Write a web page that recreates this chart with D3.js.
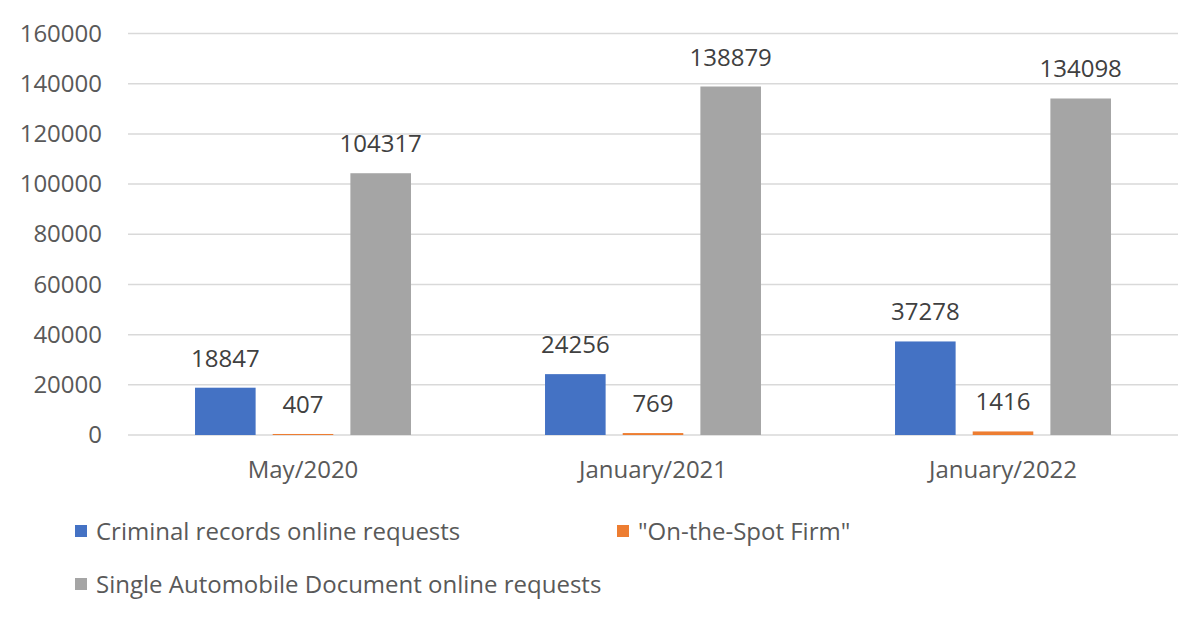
<!DOCTYPE html>
<html>
<head>
<meta charset="utf-8">
<script src="https://cdn.jsdelivr.net/npm/d3@7"></script>
<style>
  body { margin: 0; background: #fff; }
  svg { display: block; font-family: "Open Sans", Lato, sans-serif; }
</style>
</head>
<body>
<div id="chart-area"></div>
<script>
// chart data
const categories = ['May/2020', 'January/2021', 'January/2022'];
const seriesNames = ['Criminal records online requests', '"On-the-Spot Firm"', 'Single Automobile Document online requests'];
const criminalRecords = [18847, 24256, 37278];
const onTheSpot = [407, 769, 1416];
const singleAutomobile = [104317, 138879, 134098];
const yTicks = [0, 20000, 40000, 60000, 80000, 100000, 120000, 140000, 160000];
const seriesColors = ['#4472c4', '#ed7d31', '#a5a5a5'];

const width = 1200, height = 618;
const margin = { top: 33.5, right: 22, bottom: 183, left: 128 };
const innerWidth = width - margin.left - margin.right;
const innerHeight = height - margin.top - margin.bottom;
const fontFamily = '"Open Sans", Lato, sans-serif';
const fontSize = '24px';

const svg = d3.select('#chart-area')
    .append('svg')
    .attr('width', width)
    .attr('height', height);

const g = svg.append('g')
    .attr('transform', `translate(${margin.left},${margin.top})`);

// scales
const x0 = d3.scaleBand()
    .domain(categories)
    .range([0, innerWidth])
    .paddingInner(0.383)
    .paddingOuter(0.383 / 2);

const x1 = d3.scaleBand()
    .domain(d3.range(seriesNames.length))
    .range([0, x0.bandwidth()])
    .paddingInner(0.22)
    .paddingOuter(0);

const y = d3.scaleLinear()
    .domain([0, 160000])
    .range([innerHeight, 0]);

// gridlines
g.append('g')
    .selectAll('line')
    .data(yTicks)
    .join('line')
    .attr('x1', 0)
    .attr('x2', innerWidth)
    .attr('y1', d => y(d))
    .attr('y2', d => y(d))
    .attr('stroke', '#d9d9d9')
    .attr('stroke-width', 1.5);

// y axis labels
const yAxis = d3.axisLeft(y).tickValues(yTicks).tickSize(0).tickPadding(26).tickFormat(d3.format('d'));
g.append('g')
    .call(yAxis)
    .attr('font-family', fontFamily)
    .attr('font-size', fontSize)
    .call(a => a.select('.domain').remove())
    .selectAll('text')
    .attr('fill', '#595959');

// x axis labels
const xAxis = d3.axisBottom(x0).tickSize(0).tickPadding(26);
g.append('g')
    .attr('transform', `translate(0,${innerHeight})`)
    .call(xAxis)
    .attr('font-family', fontFamily)
    .attr('font-size', fontSize)
    .call(a => a.select('.domain').remove())
    .selectAll('text')
    .attr('fill', '#595959');

// bars
const rows = categories.map((c, i) => ({
    category: c,
    values: [criminalRecords[i], onTheSpot[i], singleAutomobile[i]]
}));

const groups = g.selectAll('.cat-group')
    .data(rows)
    .join('g')
    .attr('class', 'cat-group')
    .attr('transform', d => `translate(${x0(d.category)},0)`);

groups.selectAll('rect')
    .data(d => d.values.map((v, k) => ({ k, v })))
    .join('rect')
    .attr('x', d => x1(d.k))
    .attr('width', x1.bandwidth())
    .attr('y', d => y(d.v))
    .attr('height', d => innerHeight - y(d.v))
    .attr('fill', d => seriesColors[d.k]);

// data labels
groups.selectAll('text.value')
    .data(d => d.values.map((v, k) => ({ k, v })))
    .join('text')
    .attr('class', 'value')
    .attr('x', d => x1(d.k) + x1.bandwidth() / 2)
    .attr('y', d => y(d.v) - 21)
    .attr('text-anchor', 'middle')
    .attr('fill', '#404040')
    .style('font-size', fontSize)
    .text(d => d.v);

// legend
const legendPos = [[75, 525], [617, 525], [75, 578]];
const legend = svg.selectAll('.legend-item')
    .data(seriesNames)
    .join('g')
    .attr('class', 'legend-item')
    .attr('transform', (d, i) => `translate(${legendPos[i][0]},${legendPos[i][1]})`);

legend.append('rect')
    .attr('width', 12)
    .attr('height', 12)
    .attr('fill', (d, i) => seriesColors[i]);

legend.append('text')
    .attr('x', 21)
    .attr('y', 15)
    .attr('fill', '#595959')
    .style('font-size', fontSize)
    .text(d => d);
</script>
</body>
</html>
